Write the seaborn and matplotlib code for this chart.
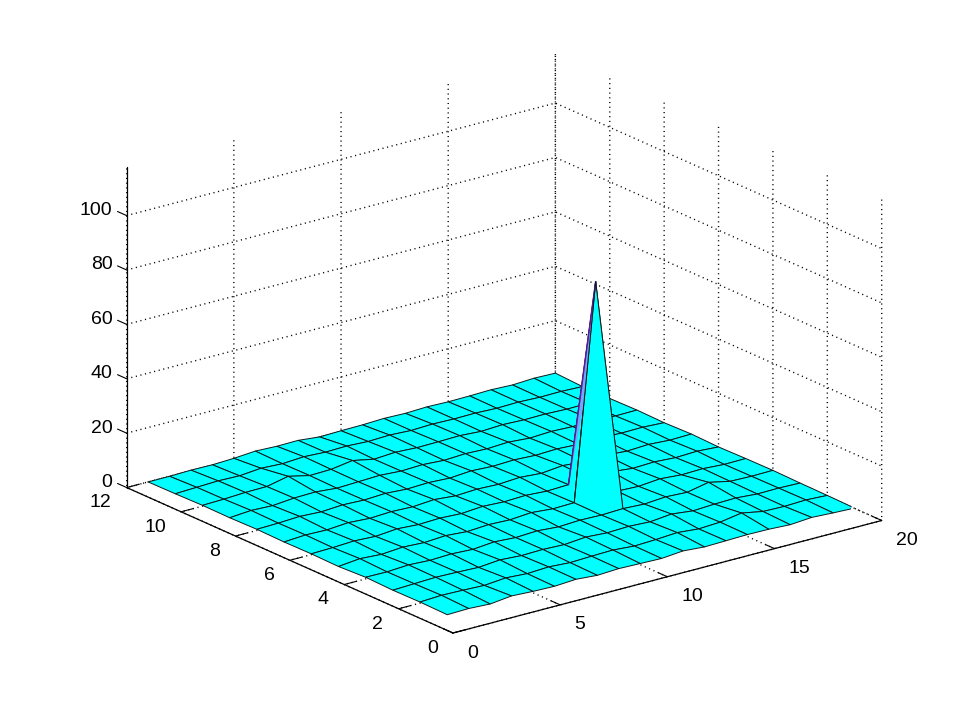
import numpy as np
import matplotlib
matplotlib.use("Agg")
import matplotlib.pyplot as plt
import seaborn as sns
from mpl_toolkits.mplot3d import proj3d
from mpl_toolkits.mplot3d.art3d import Poly3DCollection

x_values = list(range(1, 21))
y_values = list(range(1, 13))
# one row per y = 1..12, one column per x = 1..20
z_values = [
    [0.2, 0.4, 0.0, 0.9, 0.5, 0.3, 0.8, 0.2, 0.6, 0.4, 0.2, 0.9, 0.3, 0.5, 0.7, 0.6, 0.2, 0.8, 0.4, 0.1],
    [0.4, 0.8, 0.6, 0.3, 1.0, 0.5, 0.9, 0.4, 0.7, 0.9, 0.3, 0.6, 1.1, 0.4, 0.8, 2.1, 0.6, 0.4, 0.7, 0.3],
    [0.3, 0.6, 0.9, 0.7, 0.4, 1.1, 0.6, 0.8, 0.5, 1.2, 0.7, 1.0, 0.6, 1.4, 0.5, 0.9, 1.1, 0.5, 0.6, 0.4],
    [0.6, 0.5, 1.0, 0.6, 0.9, 0.5, 1.2, 0.7, 1.1, 0.5, 0.9, 0.7, 1.0, 0.6, 1.2, 0.8, 2.4, 0.7, 0.5, 0.6],
    [0.1, 0.9, 0.4, 1.0, 0.6, 1.1, 0.5, 1.0, 0.7, 1.3, 0.6, 0.8, 80.0, 0.9, 0.6, 1.3, 0.7, 0.9, 0.4, 0.5],
    [0.3, 0.5, 0.9, 0.5, 1.2, 0.7, 1.0, 0.6, 1.2, 0.8, 1.1, 0.6, 0.9, 1.0, 1.5, 0.7, 1.0, 0.5, 0.8, 0.3],
    [0.2, 0.7, 0.5, 1.1, 0.6, 1.0, 0.7, 1.3, 0.6, 1.0, 0.7, 1.2, 0.6, 1.4, 0.7, 1.1, 0.5, 0.9, 0.4, 0.6],
    [0.4, 0.6, 1.0, 0.6, 1.1, 0.8, 1.2, 0.7, 1.0, 0.6, 1.2, 0.8, 1.1, 0.7, 1.0, 0.6, 0.9, 0.6, 0.7, 0.3],
    [0.2, 0.8, 0.5, 1.2, 1.4, 0.7, 1.0, 1.3, 0.8, 1.1, 0.6, 1.0, 0.7, 1.1, 0.5, 0.9, 0.6, 0.8, 0.4, 0.5],
    [0.3, 0.5, 0.9, 1.0, 2.7, 0.9, 1.1, 2.3, 0.7, 1.2, 0.8, 0.9, 1.1, 0.6, 1.0, 0.7, 0.8, 0.5, 0.6, 0.3],
    [0.1, 0.4, 0.7, 0.5, 1.2, 0.8, 1.3, 0.9, 1.1, 0.7, 1.0, 0.6, 0.9, 0.7, 0.8, 0.5, 0.7, 0.4, 0.5, 0.2],
    [0.0, 0.0, 0.2, 0.1, 0.4, 1.0, 0.7, 0.8, 0.0, 0.2, 0.3, 0.6, 0.4, 0.7, 0.5, 0.6, 0.8, 0.5, 0.9, 0.7],
]
x_ticks = [0, 5, 10, 15, 20]
y_ticks = [0, 2, 4, 6, 8, 10, 12]
z_ticks = [0, 20, 40, 60, 80, 100]

sns.set_theme(style="white")
plt.rcParams["font.family"] = ["Liberation Sans", "DejaVu Sans"]

W, H = 975, 712
fig = plt.figure(figsize=(W / 100, H / 100), dpi=100, facecolor="white")
ax = fig.add_axes([0, 0, 1, 1], projection="3d")
ax.computed_zorder = False
ax.set_proj_type("ortho")
ax.view_init(elev=20, azim=-127.5)
ax.set_xlim(0, 20, view_margin=0)
ax.set_ylim(0, 12, view_margin=0)
ax.set_zlim(0, 118, view_margin=0)
aspect = (1, 0.992, 0.632)
ax.set_box_aspect(aspect, zoom=1)

X, Y = np.meshgrid(x_values, y_values)
Z = np.array(z_values)
edge = "#101818"
surf = ax.plot_surface(X, Y, Z, rstride=1, cstride=1, color=(0, 1, 1), shade=False,
                       edgecolor=edge, linewidth=0.7, antialiased=True, zorder=1)

# the thin blue sliver and purple edge on the left flank of the spike
i_pk, j_pk = np.unravel_index(Z.argmax(), Z.shape)
apex = np.array([X[i_pk, j_pk], Y[i_pk, j_pk], Z[i_pk, j_pk]], dtype=float)
back = np.array([X[i_pk + 1, j_pk], Y[i_pk + 1, j_pk], Z[i_pk + 1, j_pk]], dtype=float)
left = np.array([X[i_pk, j_pk - 1], Y[i_pk, j_pk - 1], Z[i_pk, j_pk - 1]], dtype=float)
mid = left + 0.45 * (apex - left)
ax.add_collection3d(Poly3DCollection([[back, apex, mid]], facecolors="#6fa8ff",
                                     edgecolors="none", zorder=2))
ax.plot(*np.c_[back, apex], color="#5a189a", lw=1.1, zorder=3)
ax.plot(*np.c_[left, apex], color=edge, lw=0.7, zorder=3)

ax.set_xticks(x_ticks)
ax.set_yticks(y_ticks)
ax.set_zticks(z_ticks)
ax.grid(True)
for axis in (ax.xaxis, ax.yaxis, ax.zaxis):
    axis.set_pane_color((1, 1, 1, 0))
    axis.pane.set_edgecolor((1, 1, 1, 0))
    axis.line.set_color("black")
    axis.line.set_linewidth(0.9)
    axis._axinfo["grid"].update(color="black", linestyle=(0, (0.8, 2.6)), linewidth=1.0)
    axis._axinfo["tick"].update(inward_factor=0.0, outward_factor=0.35, linewidth={True: 0.8, False: 0.8})
ax.zaxis.set_ticks_position("upper")
ax.zaxis._get_tickdir = lambda position: 1  # z ticks point along the y direction
ax.tick_params(axis="both", labelsize=14, colors="black")
ax.tick_params(axis="x", pad=3.5)
ax.tick_params(axis="y", pad=1.5)
ax.tick_params(axis="z", pad=-3)
for t in ax.get_xticklabels():
    t.set_ha("left")
    t.set_va("center")
for t in ax.get_yticklabels():
    t.set_ha("right")
    t.set_va("center")
for t in ax.get_zticklabels():
    t.set_ha("right")
    t.set_va("baseline")


def to_px(px, py, pz):
    ax.apply_aspect()
    vx, vy, _ = proj3d.proj_transform(px, py, pz, ax.get_proj())
    return ax.transData.transform((vx, vy))


# fit the box to the reference frame: front corner and right corner
target_o = np.array([453.0, H - 633.0])
target_r = np.array([881.7, H - 521.7])
a, b = to_px(0, 0, 0), to_px(20, 0, 0)
scale = (target_r[0] - target_o[0]) / (b[0] - a[0])
ax.set_box_aspect(aspect, zoom=scale)
a = to_px(0, 0, 0)
shift = target_o - a
ax.set_position([shift[0] / W, shift[1] / H, 1, 1])
fig.savefig("out.png", dpi=100, facecolor="white")
